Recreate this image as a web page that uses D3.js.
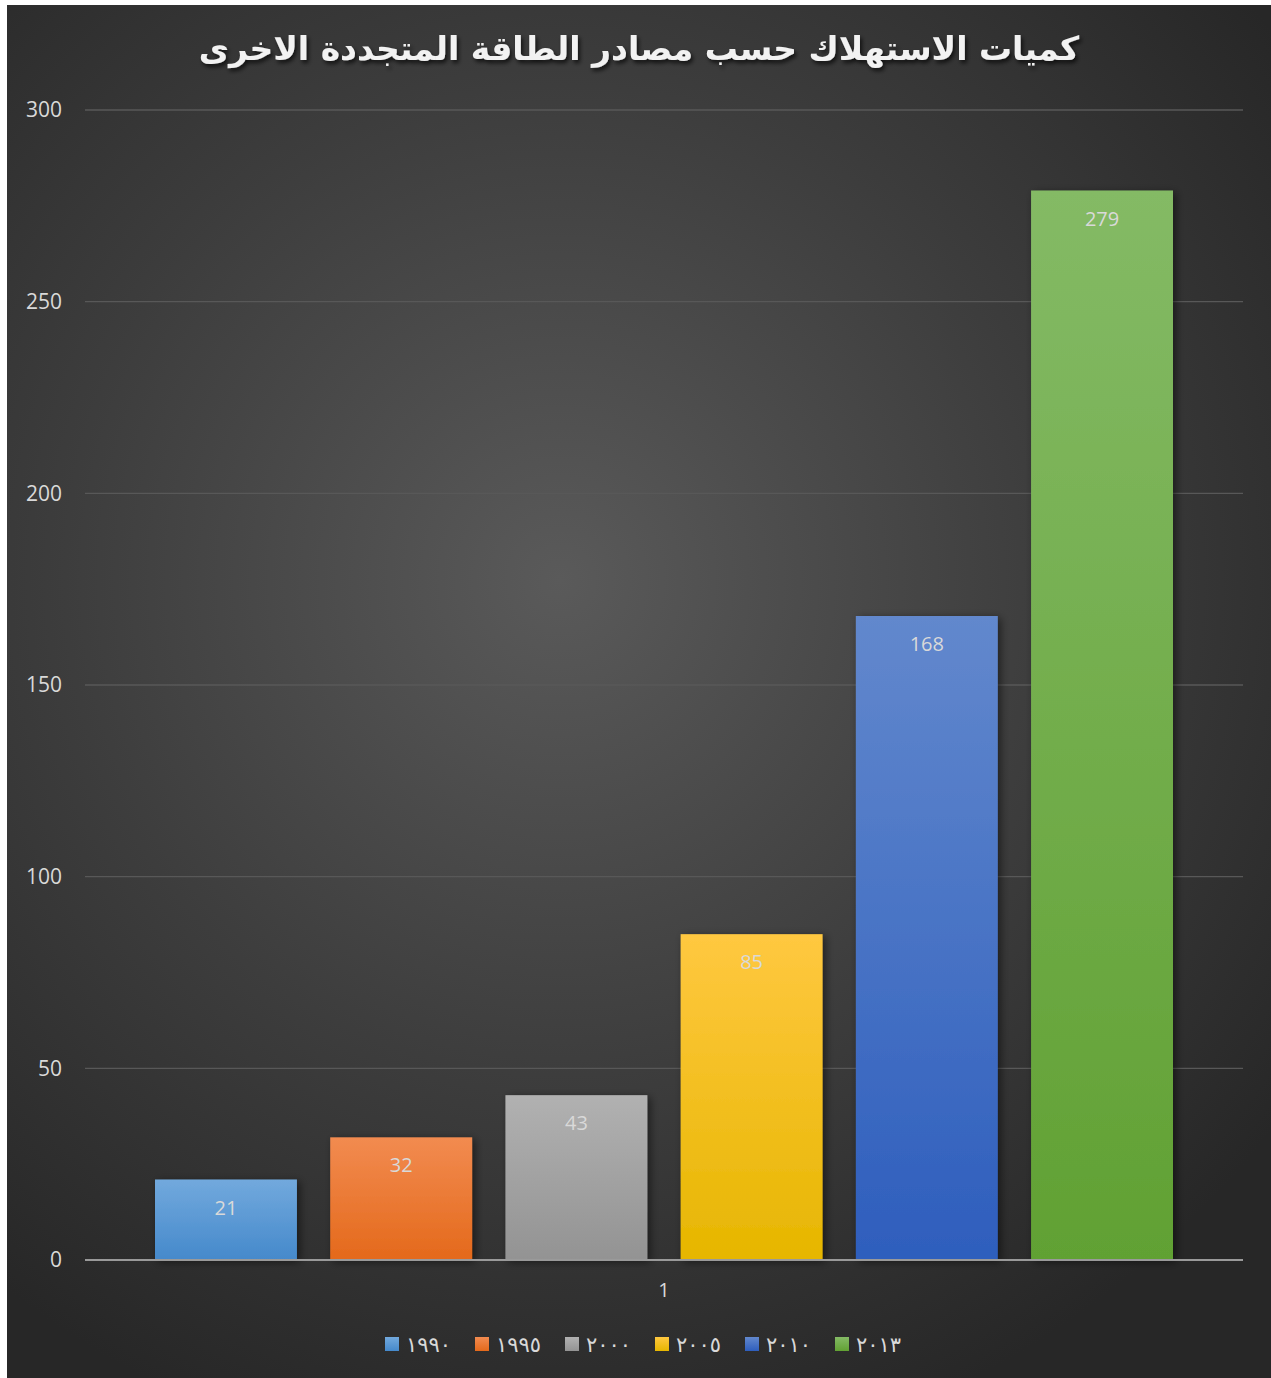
<!DOCTYPE html>
<html lang="ar">
<head>
<meta charset="utf-8">
<script src="https://cdn.jsdelivr.net/npm/d3@7"></script>
<style>
  html, body { margin: 0; padding: 0; background: #ffffff; }
  svg { display: block; }
</style>
</head>
<body>
<svg id="chart" width="1271" height="1378"></svg>
<script>
// Renewable energy consumption by year
const categories = ["1"];
const years = ["1990", "1995", "2000", "2005", "2010", "2013"];
const yearLabels = ["١٩٩٠", "١٩٩٥", "٢٠٠٠", "٢٠٠٥", "٢٠١٠", "٢٠١٣"];
const values = [21, 32, 43, 85, 168, 279];
const yTicks = [0, 50, 100, 150, 200, 250, 300];
const titleText = "كميات الاستهلاك حسب مصادر الطاقة المتجددة الاخرى";

const colors = [
  ["#72a9dd", "#4589cb"],
  ["#f28b50", "#e4691b"],
  ["#b1b1b1", "#939393"],
  ["#ffc840", "#e6b600"],
  ["#6288cd", "#2e5ebd"],
  ["#84ba65", "#61a133"]
];

const W = 1271, H = 1378;
const svg = d3.select("#chart");
const defs = svg.append("defs");

// Panel background: dark radial glow
const bg = defs.append("radialGradient").attr("id", "bgGrad")
  .attr("gradientUnits", "userSpaceOnUse")
  .attr("cx", 560).attr("cy", 580).attr("r", 900);
bg.append("stop").attr("offset", "0").attr("stop-color", "#5a5a5a");
bg.append("stop").attr("offset", "0.55").attr("stop-color", "#3d3d3d");
bg.append("stop").attr("offset", "1").attr("stop-color", "#272727");

colors.forEach((c, i) => {
  const g = defs.append("linearGradient").attr("id", "bar" + i)
    .attr("x1", 0).attr("y1", 0).attr("x2", 0).attr("y2", 1);
  g.append("stop").attr("offset", "0").attr("stop-color", c[0]);
  g.append("stop").attr("offset", "1").attr("stop-color", c[1]);
});

const shadow = defs.append("filter").attr("id", "barShadow")
  .attr("x", "-10%").attr("y", "-10%").attr("width", "130%").attr("height", "130%");
shadow.append("feGaussianBlur").attr("in", "SourceAlpha").attr("stdDeviation", 4).attr("result", "b");
shadow.append("feOffset").attr("in", "b").attr("dx", 3).attr("dy", 2).attr("result", "o");
shadow.append("feComponentTransfer").attr("in", "o").attr("result", "s")
  .append("feFuncA").attr("type", "linear").attr("slope", 0.5);
const merge = shadow.append("feMerge");
merge.append("feMergeNode").attr("in", "s");
merge.append("feMergeNode").attr("in", "SourceGraphic");

const titleShadow = defs.append("filter").attr("id", "titleShadow")
  .attr("x", "-5%").attr("y", "-30%").attr("width", "110%").attr("height", "170%");
titleShadow.append("feDropShadow").attr("dx", 2).attr("dy", 3)
  .attr("stdDeviation", 2).attr("flood-color", "#000").attr("flood-opacity", 0.7);

svg.append("rect").attr("x", 7).attr("y", 5).attr("width", W - 7).attr("height", H - 5)
  .attr("fill", "url(#bgGrad)");

const plot = { left: 85, right: 1243, top: 110, bottom: 1260 };

const y = d3.scaleLinear().domain([0, 300]).range([plot.bottom, plot.top]);
const x0 = d3.scaleBand().domain(categories).range([plot.left, plot.right]);
const x1 = d3.scaleBand().domain(years)
  .range([x0("1") + 70, x0("1") + x0.bandwidth() - 70])
  .paddingInner(0.19).paddingOuter(0);

// Gridlines
svg.append("g")
  .selectAll("line").data(yTicks.filter(t => t > 0)).join("line")
  .attr("x1", plot.left).attr("x2", plot.right)
  .attr("y1", d => y(d)).attr("y2", d => y(d))
  .attr("stroke", "#585858").attr("stroke-width", 1.3);

// Y axis labels
const yAxis = d3.axisLeft(y).tickValues(yTicks).tickSize(0).tickPadding(0);
const ya = svg.append("g").attr("transform", `translate(62,0)`).call(yAxis);
ya.select(".domain").remove();
ya.selectAll("text")
  .attr("fill", "#d9d9d9").attr("font-family", "'Open Sans', 'DejaVu Sans', sans-serif")
  .attr("font-size", 21);

// Bars
svg.append("g").selectAll("rect").data(years).join("rect")
  .attr("x", d => x1(d))
  .attr("y", (d, i) => y(values[i]))
  .attr("width", x1.bandwidth())
  .attr("height", (d, i) => y(0) - y(values[i]))
  .attr("fill", (d, i) => `url(#bar${i})`)
  .attr("filter", "url(#barShadow)");

// Baseline
svg.append("line")
  .attr("x1", plot.left).attr("x2", plot.right)
  .attr("y1", y(0)).attr("y2", y(0))
  .attr("stroke", "#9a9a9a").attr("stroke-width", 2);

// Value labels
svg.append("g").selectAll("text").data(years).join("text")
  .attr("x", d => x1(d) + x1.bandwidth() / 2)
  .attr("y", (d, i) => y(values[i]) + 35)
  .attr("text-anchor", "middle")
  .attr("fill", "#d9d9d9")
  .attr("font-family", "'Open Sans', 'DejaVu Sans', sans-serif")
  .attr("font-size", 20)
  .text((d, i) => values[i]);

// Category axis label
const xAxis = d3.axisBottom(x0).tickSize(0).tickPadding(0);
const xa = svg.append("g").attr("transform", `translate(0,${plot.bottom + 23})`).call(xAxis);
xa.select(".domain").remove();
xa.selectAll("text")
  .attr("fill", "#d9d9d9").attr("font-family", "'Open Sans', 'DejaVu Sans', sans-serif")
  .attr("font-size", 20).attr("dy", "0.71em");

// Title
svg.append("text")
  .attr("x", 639).attr("y", 60)
  .attr("text-anchor", "middle")
  .attr("direction", "rtl")
  .attr("fill", "#f2f2f2")
  .attr("font-family", "'DejaVu Sans', sans-serif")
  .attr("font-weight", "bold")
  .attr("font-size", 33)
  .attr("filter", "url(#titleShadow)")
  .text(titleText);

// Legend
const legend = svg.append("g").attr("transform", "translate(385,1337)");
const item = legend.selectAll("g").data(years).join("g")
  .attr("transform", (d, i) => `translate(${i * 90},0)`);
item.append("rect").attr("width", 14).attr("height", 14)
  .attr("fill", (d, i) => `url(#bar${i})`);
item.append("text")
  .attr("x", 21).attr("y", 7).attr("dy", "0.38em")
  .attr("fill", "#d9d9d9")
  .attr("font-family", "'DejaVu Sans', sans-serif")
  .attr("font-size", 21)
  .attr("letter-spacing", 3)
  .text((d, i) => yearLabels[i]);
</script>
</body>
</html>
